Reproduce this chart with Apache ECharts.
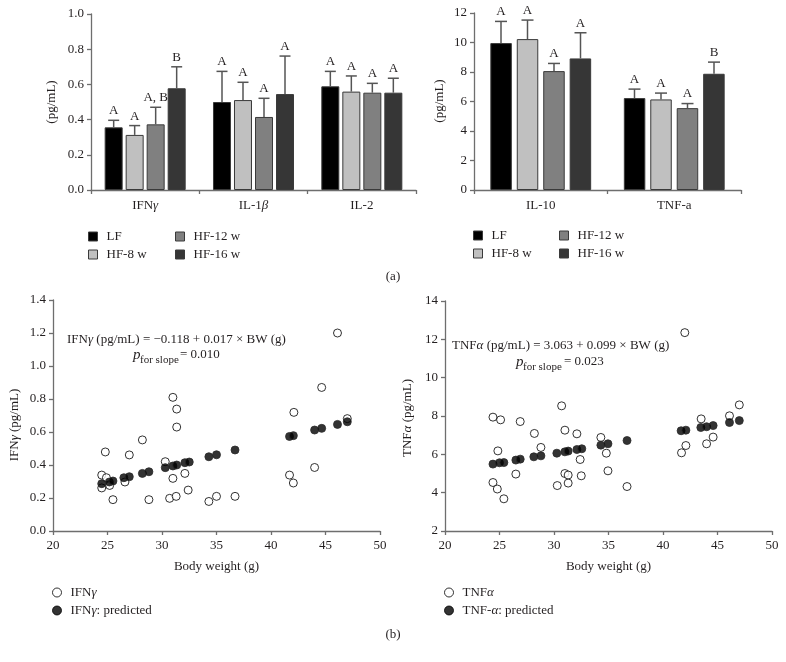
<!DOCTYPE html>
<html>
<head>
<meta charset="utf-8">
<script src="https://cdn.jsdelivr.net/npm/echarts@6/dist/echarts.min.js"></script>
<style>html,body{margin:0;padding:0;background:#fff}#c{width:786px;height:662px}</style>
</head>
<body>
<div id="c"></div>
<script>
// ---------- DATA ----------
const groups = ['LF', 'HF-8 w', 'HF-12 w', 'HF-16 w'];
// Panel (a) left
const catsA = ['IFNγ', 'IL-1β', 'IL-2'];
const meanA_LF = [0.356, 0.500, 0.589];
const meanA_HF8 = [0.313, 0.511, 0.559];
const meanA_HF12 = [0.373, 0.415, 0.553];
const meanA_HF16 = [0.578, 0.545, 0.553];
const errA_LF = [0.040, 0.174, 0.085];
const errA_HF8 = [0.053, 0.101, 0.089];
const errA_HF12 = [0.097, 0.106, 0.053];
const errA_HF16 = [0.122, 0.216, 0.082];
const letA_LF = ['A', 'A', 'A'];
const letA_HF8 = ['A', 'A', 'A'];
const letA_HF12 = ['A, B', 'A', 'A'];
const letA_HF16 = ['B', 'A', 'A'];
const yTicksA = [0, 1.0, 0.2];
// Panel (a) right
const catsB = ['IL-10', 'TNF-a'];
const meanB_LF = [9.96, 6.23];
const meanB_HF8 = [10.23, 6.14];
const meanB_HF12 = [8.06, 5.55];
const meanB_HF16 = [8.92, 7.88];
const errB_LF = [1.47, 0.61];
const errB_HF8 = [1.29, 0.43];
const errB_HF12 = [0.52, 0.31];
const errB_HF16 = [1.74, 0.79];
const letB_LF = ['A', 'A'];
const letB_HF8 = ['A', 'A'];
const letB_HF12 = ['A', 'A'];
const letB_HF16 = ['A', 'B'];
const yTicksB = [0, 12, 2];
// Panel (b) left: IFNγ vs body weight
const ifnObs = [
  [24.8,0.479],[24.47,0.339],[24.9,0.323],[24.47,0.261],[25.2,0.276],[25.5,0.190],
  [26.6,0.297],[27.0,0.461],[28.2,0.552],[28.8,0.190],[30.3,0.420],[31.0,0.810],
  [31.35,0.739],[31.35,0.630],[31.0,0.319],[30.7,0.198],[31.3,0.210],[32.1,0.349],
  [32.4,0.248],[34.3,0.179],[35.0,0.210],[36.7,0.210],[46.1,1.200],[44.65,0.870],
  [42.1,0.719],[47.0,0.681],[44.0,0.385],[41.7,0.339],[42.05,0.291]
];
const ifnPred = [
  [24.47,0.287],[25.17,0.297],[25.5,0.303],[26.5,0.323],[27.0,0.329],[28.2,0.349],
  [28.8,0.359],[30.3,0.384],[31.0,0.394],[31.35,0.400],[32.1,0.414],[32.5,0.418],
  [34.3,0.450],[35.0,0.462],[36.7,0.491],[41.7,0.573],[42.05,0.578],[44.0,0.612],
  [44.65,0.622],[46.1,0.646],[47.0,0.662]
];
// Panel (b) right: TNFα vs body weight
const tnfObs = [
  [24.4,7.94],[25.1,7.80],[24.85,6.18],[26.9,7.71],[28.2,7.09],[28.8,6.36],
  [30.7,8.53],[31.0,7.26],[32.1,7.07],[32.4,5.73],[31.0,5.00],[31.3,4.92],
  [31.3,4.50],[30.3,4.37],[32.5,4.88],[26.5,4.97],[24.4,4.53],[24.8,4.19],
  [25.4,3.68],[34.3,6.88],[34.8,6.06],[34.95,5.14],[36.7,4.32],[42.0,12.35],
  [43.5,7.85],[46.1,8.01],[47.0,8.58],[42.1,6.46],[41.7,6.08],[44.6,6.90],[44.0,6.55]
];
const tnfPred = [
  [24.4,5.49],[25.0,5.56],[25.4,5.57],[26.5,5.70],[26.9,5.75],[28.15,5.87],
  [28.8,5.92],[30.26,6.06],[31.0,6.13],[31.3,6.17],[32.1,6.25],[32.55,6.29],
  [34.3,6.48],[34.95,6.55],[36.7,6.72],[41.66,7.23],[42.1,7.26],[43.47,7.40],
  [44.0,7.44],[44.6,7.50],[46.1,7.66],[47.0,7.76]
];
const xTicksBW = [20, 50, 5];
const yTicksIFN = [0, 1.4, 0.2];
const yTicksTNF = [2, 14, 2];

// ---------- STYLE ----------
const FONT = '"Liberation Serif", "DejaVu Serif", serif';
const TXT = '#231f20';
const AX = '#6e6e6e';
const colors = ['#000000', '#c0c0c0', '#808080', '#363636'];

const rich = {
  n: { fontFamily: FONT, fontSize: 13, color: TXT },
  i: { fontFamily: FONT, fontSize: 13, color: TXT, fontStyle: 'italic' }
};
function greek(v) {
  return '{n|' + String(v).replace(/([α-ω])/g, '}{i|$1}{n|') + '}';
}

const chart = echarts.init(document.getElementById('c'), null, { renderer: 'canvas' });

function axisCommon() {
  return {
    axisLine: { show: true, lineStyle: { color: AX, width: 1.3 } },
    axisTick: { show: true, length: 4, lineStyle: { color: AX, width: 1.3 } },
    splitLine: { show: false },
    axisLabel: { fontFamily: FONT, fontSize: 13, color: TXT }
  };
}

const grids = [
  { left: 91, top: 14, width: 325, height: 176 },
  { left: 474, top: 13, width: 267, height: 177 },
  { left: 53, top: 300, width: 327, height: 231 },
  { left: 445, top: 301, width: 327, height: 230 }
];

function catAxis(g, cats) {
  const a = axisCommon();
  return Object.assign(a, { gridIndex: g, type: 'category', data: cats,
    axisLabel: Object.assign(a.axisLabel, { margin: 9, interval: 0, formatter: greek, rich: rich }) });
}
function bwAxis(g) {
  const a = axisCommon();
  return Object.assign(a, { gridIndex: g, type: 'value', min: xTicksBW[0], max: xTicksBW[1], interval: xTicksBW[2],
    axisLabel: Object.assign(a.axisLabel, { margin: 8 }),
    name: 'Body weight (g)', nameLocation: 'middle', nameGap: 29,
    nameTextStyle: { fontFamily: FONT, fontSize: 13, color: TXT } });
}
const xAxes = [catAxis(0, catsA), catAxis(1, catsB), bwAxis(2), bwAxis(3)];

function yVal(g, t, dec) {
  const a = axisCommon();
  return Object.assign(a, { gridIndex: g, type: 'value', min: t[0], max: t[1], interval: t[2],
    axisLabel: Object.assign(a.axisLabel, { margin: 7, formatter: v => v.toFixed(dec) }) });
}
const yAxes = [yVal(0, yTicksA, 1), yVal(1, yTicksB, 0), yVal(2, yTicksIFN, 1), yVal(3, yTicksTNF, 0)];

const series = [];
const meansA = [meanA_LF, meanA_HF8, meanA_HF12, meanA_HF16];
const errsA = [errA_LF, errA_HF8, errA_HF12, errA_HF16];
const letsA = [letA_LF, letA_HF8, letA_HF12, letA_HF16];
const meansB = [meanB_LF, meanB_HF8, meanB_HF12, meanB_HF16];
const errsB = [errB_LF, errB_HF8, errB_HF12, errB_HF16];
const letsB = [letB_LF, letB_HF8, letB_HF12, letB_HF16];

function addBars(axisIdx, means, bw, gap) {
  groups.forEach((g, i) => {
    series.push({
      name: g, type: 'bar', xAxisIndex: axisIdx, yAxisIndex: axisIdx,
      data: means[i], barWidth: bw, barGap: gap,
      itemStyle: { color: colors[i], borderColor: '#3a3a3a', borderWidth: 1 },
      emphasis: { disabled: true }, silent: true
    });
  });
}
function addErr(axisIdx, means, errs, lets, step, cap) {
  const data = [], letters = [];
  means.forEach((arr, si) => arr.forEach((m, ci) => {
    data.push([ci, si, m, errs[si][ci]]);
    letters.push(lets[si][ci]);
  }));
  series.push({
    type: 'custom', xAxisIndex: axisIdx, yAxisIndex: axisIdx, z: 5, silent: true,
    data: data,
    renderItem: function (params, api) {
      const ci = api.value(0), si = api.value(1), m = api.value(2), e = api.value(3);
      const base = api.coord([ci, m]);
      const top = api.coord([ci, m + e]);
      const x = base[0] + (si - 1.5) * step;
      return {
        type: 'group', children: [
          { type: 'line', shape: { x1: x, y1: base[1], x2: x, y2: top[1] }, style: { stroke: '#555', lineWidth: 1.5 } },
          { type: 'line', shape: { x1: x - cap / 2, y1: top[1], x2: x + cap / 2, y2: top[1] }, style: { stroke: '#555', lineWidth: 1.5 } },
          { type: 'text', x: x, y: top[1] - 3, style: { text: letters[params.dataIndex], align: 'center', verticalAlign: 'bottom',
              fontFamily: FONT, fontSize: 13, fill: TXT } }
        ]
      };
    }
  });
}
addBars(0, meansA, 18, '16.7%');
addErr(0, meansA, errsA, letsA, 21, 11);
addBars(1, meansB, 21.5, '23%');
addErr(1, meansB, errsB, letsB, 26.5, 12);

const openStyle = { color: '#ffffff', borderColor: '#000', borderWidth: 1 };
const fillStyle = { color: '#000', borderColor: '#2a2a2a', borderWidth: 1 };
series.push({ name: 'IFNγ', type: 'scatter', xAxisIndex: 2, yAxisIndex: 2, data: ifnObs, symbolSize: 8, itemStyle: openStyle, silent: true });
series.push({ name: 'IFNγ: predicted', type: 'scatter', xAxisIndex: 2, yAxisIndex: 2, data: ifnPred, symbolSize: 8, itemStyle: fillStyle, silent: true });
series.push({ name: 'TNFα', type: 'scatter', xAxisIndex: 3, yAxisIndex: 3, data: tnfObs, symbolSize: 8, itemStyle: openStyle, silent: true });
series.push({ name: 'TNF-α: predicted', type: 'scatter', xAxisIndex: 3, yAxisIndex: 3, data: tnfPred, symbolSize: 8, itemStyle: fillStyle, silent: true });

function barLegend(left, top, names) {
  return {
    orient: 'vertical', left: left, top: top, padding: 0, itemWidth: 9, itemHeight: 9, itemGap: 5, icon: 'rect',
    selectedMode: false,
    textStyle: { fontFamily: FONT, fontSize: 13, color: TXT, padding: [0, 0, 0, 4] },
    data: names.map(n => ({ name: n, itemStyle: { color: colors[groups.indexOf(n)], borderColor: '#3a3a3a', borderWidth: 1 } }))
  };
}
function scLegend(left, top, names) {
  return {
    orient: 'vertical', left: left, top: top, padding: 0, itemWidth: 9, itemHeight: 9, itemGap: 5, icon: 'circle',
    selectedMode: false,
    formatter: greek,
    textStyle: { fontFamily: FONT, fontSize: 13, color: TXT, padding: [0, 0, 0, 4], rich: rich },
    data: [
      { name: names[0], itemStyle: openStyle },
      { name: names[1], itemStyle: { color: '#000', borderColor: '#000', borderWidth: 1 } }
    ]
  };
}

function gtext(x, y, text, opts) {
  return Object.assign({ type: 'text', x: x, y: y,
    style: Object.assign({ text: text, fontFamily: FONT, fontSize: 13, fill: TXT, align: 'left', verticalAlign: 'middle' }, (opts && opts.style) || {}) },
    (opts && opts.el) || {});
}

const graphics = [
  gtext(52, 102, '(pg/mL)', { style: { align: 'center' }, el: { rotation: Math.PI / 2 } }),
  gtext(440, 101, '(pg/mL)', { style: { align: 'center' }, el: { rotation: Math.PI / 2 } }),
  gtext(393, 277, '(a)', { style: { align: 'center' } }),
  gtext(393, 635, '(b)', { style: { align: 'center' } }),
  gtext(15, 425, '{n|IFN}{i|γ}{n| (pg/mL)}', { style: { align: 'center', rich: rich }, el: { rotation: Math.PI / 2 } }),
  gtext(408, 418, '{n|TNF}{i|α}{n| (pg/mL)}', { style: { align: 'center', rich: rich }, el: { rotation: Math.PI / 2 } }),
  gtext(67, 340, '{n|IFN}{i|γ}{n| (pg/mL) = −0.118 + 0.017 × BW (g)}', { style: { rich: rich } }),
  gtext(133, 355, 'p', { style: { fontStyle: 'italic', fontSize: 15 } }),
  gtext(140, 360, 'for slope', { style: { fontSize: 11 } }),
  gtext(180, 355, '= 0.010'),
  gtext(452, 346, '{n|TNF}{i|α}{n| (pg/mL) = 3.063 + 0.099 × BW (g)}', { style: { rich: rich } }),
  gtext(516, 362, 'p', { style: { fontStyle: 'italic', fontSize: 15 } }),
  gtext(523, 367, 'for slope', { style: { fontSize: 11 } }),
  gtext(564, 362, '= 0.023')
];

chart.setOption({
  backgroundColor: '#ffffff',
  animation: false,
  grid: grids,
  xAxis: xAxes,
  yAxis: yAxes,
  legend: [
    barLegend(88, 230, ['LF', 'HF-8 w']),
    barLegend(175, 230, ['HF-12 w', 'HF-16 w']),
    barLegend(473, 229, ['LF', 'HF-8 w']),
    barLegend(559, 229, ['HF-12 w', 'HF-16 w']),
    scLegend(52, 586, ['IFNγ', 'IFNγ: predicted']),
    scLegend(444, 586, ['TNFα', 'TNF-α: predicted'])
  ],
  graphic: graphics,
  series: series
});
</script>
</body>
</html>
